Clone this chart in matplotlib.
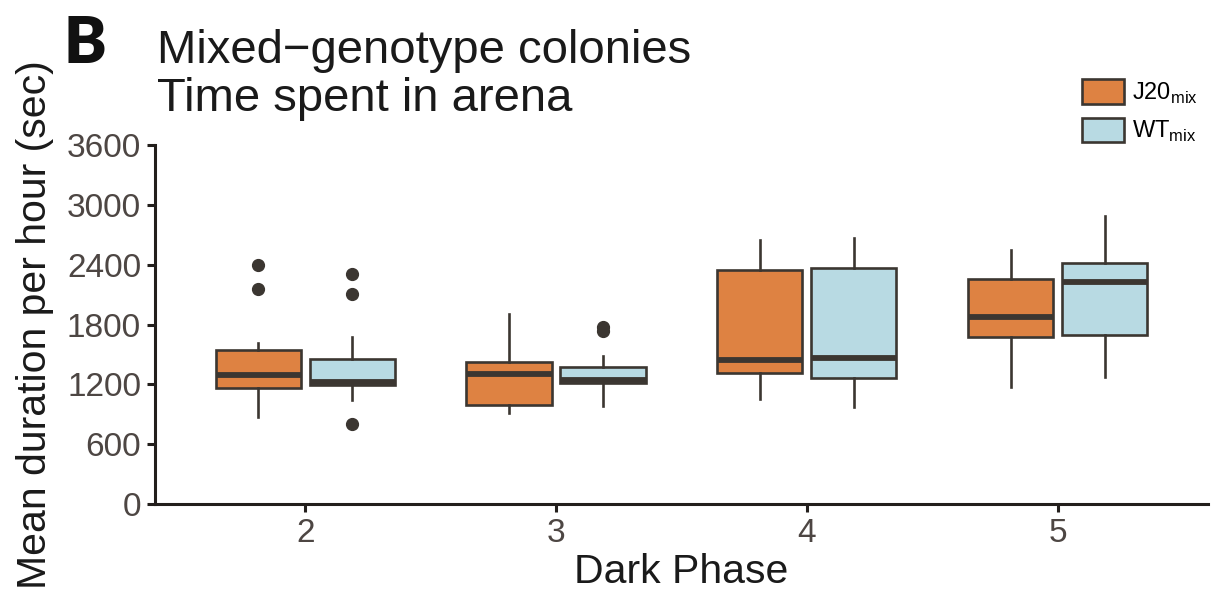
import matplotlib.pyplot as plt
from matplotlib.patches import Patch

plt.rcParams["font.family"] = ["Liberation Sans", "DejaVu Sans"]
plt.rcParams["mathtext.fontset"] = "custom"
plt.rcParams["mathtext.rm"] = "Liberation Sans"

# ===============================
phases = [2, 3, 4, 5]
groups = ["J20", "WT"]

# box stats per phase (sec)
j20_whislo = [876, 909, 1050, 1170]
j20_q1 = [1160, 996, 1317, 1675]
j20_med = [1290, 1304, 1444, 1875]
j20_q3 = [1544, 1424, 2343, 2253]
j20_whishi = [1618, 1905, 2647, 2547]
j20_fliers = [[2397, 2156], [], [], []]

wt_whislo = [1043, 983, 973, 1270]
wt_q1 = [1197, 1210, 1267, 1695]
wt_med = [1227, 1243, 1461, 2226]
wt_q3 = [1451, 1377, 2370, 2417]
wt_whishi = [1671, 1484, 2671, 2891]
wt_fliers = [[2306, 2106, 802], [1770, 1732], [], []]

colors = {"J20": "#DE8242", "WT": "#B8DAE3"}
edge = "#3B3631"


def make_stats(lo, q1, med, q3, hi, fl):
    return [dict(whislo=a, q1=b, med=c, q3=d, whishi=e, fliers=f)
            for a, b, c, d, e, f in zip(lo, q1, med, q3, hi, fl)]


stats = {
    "J20": make_stats(j20_whislo, j20_q1, j20_med, j20_q3, j20_whishi, j20_fliers),
    "WT": make_stats(wt_whislo, wt_q1, wt_med, wt_q3, wt_whishi, wt_fliers),
}
offsets = {"J20": -0.1875, "WT": 0.1875}

# ===============================
fig = plt.figure(figsize=(12.25, 6.03), dpi=100)
ax = fig.add_axes([0.1265, 0.1642, 0.8596, 0.5953])

for g in groups:
    ax.bxp(
        stats[g],
        positions=[p + offsets[g] for p in phases],
        widths=0.34,
        patch_artist=True,
        showcaps=False,
        boxprops=dict(facecolor=colors[g], edgecolor=edge, linewidth=1.9),
        medianprops=dict(color=edge, linewidth=4.2, solid_capstyle="butt"),
        whiskerprops=dict(color=edge, linewidth=1.9),
        flierprops=dict(marker="o", markerfacecolor=edge, markeredgecolor=edge,
                        markersize=8.5),
        manage_ticks=False,
    )

ax.set_xlim(1.4, 5.6)
ax.set_ylim(0, 3600)
ax.set_xticks(phases)
ax.set_xticklabels([str(p) for p in phases])
ax.set_yticks(range(0, 3601, 600))

for s in ["top", "right"]:
    ax.spines[s].set_visible(False)
for s in ["left", "bottom"]:
    ax.spines[s].set_linewidth(2.2)
    ax.spines[s].set_color("#231F1C")

ax.tick_params(axis="both", length=6, width=2.2, color="#231F1C",
               labelsize=24, labelcolor="#4D4643", pad=4)

ax.set_xlabel("Dark Phase", fontsize=29.5, color="#1A1A1A", labelpad=3)
ax.set_ylabel("Mean duration per hour (sec)", fontsize=29.5, color="#1A1A1A",
              labelpad=9)

fig.text(157 / 1225, 1 - 29 / 603, "Mixed\u2212genotype colonies\nTime spent in arena",
         fontsize=34, ha="left", va="top", color="#1A1A1A", linespacing=1.12)
fig.text(63 / 1225, 1 - 15 / 603, "B", fontsize=46, fontweight="heavy",
         family=["Lato", "DejaVu Sans"], ha="left", va="top", color="#111111")

handles = [Patch(facecolor=colors[g], edgecolor=edge, linewidth=1.9) for g in groups]
labels = [r"J20$_{\mathrm{mix}}$", r"WT$_{\mathrm{mix}}$"]
fig.legend(handles, labels, loc="upper left", bbox_to_anchor=(1073 / 1225, 1 - 70 / 603),
           frameon=False, fontsize=17, handlelength=1.75, handleheight=1.2,
           handletextpad=0.35, labelspacing=0.5, borderaxespad=0)

fig.savefig("out.png", dpi=100)
